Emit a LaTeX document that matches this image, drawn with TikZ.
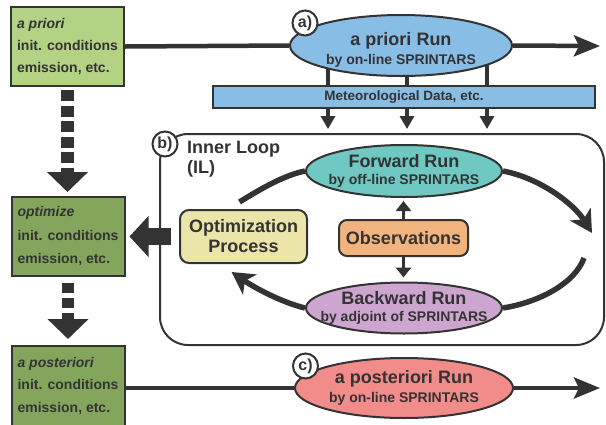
\documentclass[tikz,border=0pt]{standalone}
\usepackage{fontspec}
\setmainfont{Liberation Sans}
\usetikzlibrary{arrows.meta,calc,shapes.geometric}
\pgfdeclarelayer{bg}
\pgfsetlayers{bg,main}
\definecolor{ink}{HTML}{333333}
\definecolor{lgreen}{HTML}{B4D283}
\definecolor{dgreen}{HTML}{84A65C}
\definecolor{cblue}{HTML}{88BDE6}
\definecolor{cteal}{HTML}{70C8C2}
\definecolor{corange}{HTML}{F2B47E}
\definecolor{cyellow}{HTML}{ECE5AA}
\definecolor{cpurple}{HTML}{CDA6D0}
\definecolor{cpink}{HTML}{F28C8A}
\newcommand\runtitle[1]{{\fontsize{18}{19}\selectfont #1}}
\tikzset{
  inbox/.style={draw=ink, line width=2pt, minimum width=113pt,
    inner xsep=0pt, inner ysep=0pt, align=left, text=ink,
    font=\bfseries\fontsize{14}{22}\selectfont},
  runell/.style={ellipse, draw=ink, line width=2pt, inner xsep=-30pt, inner ysep=-10pt,
    align=center, text=ink, font=\bfseries\fontsize{14}{19}\selectfont},
  procbox/.style={draw=ink, line width=2pt, rounded corners=9pt, inner sep=0pt,
    align=center, text=ink, font=\bfseries\fontsize{18}{20}\selectfont},
  tag/.style={circle, draw=ink, fill=white, line width=2pt, minimum size=25pt,
    inner sep=0pt, text=ink, font=\bfseries\fontsize{16}{16}\selectfont},
  conn/.style={draw=ink, line width=4.5pt},
  bigtip/.style={-{Stealth[length=26pt,width=21pt,inset=5pt]}},
  smallconn/.style={draw=ink, line width=3.5pt},
  smalltip/.style={-{Triangle[length=13pt,width=14pt]}},
  blockarrow/.style={draw=ink, line width=12.5pt, dash pattern=on 11pt off 4.5pt,
    -{Triangle[length=20pt,width=40pt]}},
  looparc/.style={draw=ink, line width=5.5pt},
  looptip/.style={-{Stealth[length=22pt,width=24pt,inset=6pt]}}
}
\begin{document}
\begin{tikzpicture}[x=1pt,y=-1pt]
\useasboundingbox (0,0) rectangle (606,424);

% inner loop frame
\node[draw=ink, line width=2pt, rounded corners=28pt, minimum width=444pt,
      minimum height=211pt, inner sep=0pt] (loop) at (382,239.5) {};

% left boxes
\node[inbox, fill=lgreen, minimum height=79pt] (init1) at (67.5,46.5)
  {\textit{a priori}\\init. conditions\\emission, etc.};
\node[inbox, fill=dgreen, minimum height=79pt,
      font=\bfseries\fontsize{14}{23.5}\selectfont] (init2) at (68,236.5)
  {\textit{optimize}\\init. conditions\\emission, etc.};
\node[inbox, fill=dgreen, minimum height=80pt,
      font=\bfseries\fontsize{14}{22.5}\selectfont] (init3) at (68,386)
  {\textit{a posteriori}\\init. conditions\\emission, etc.};

% runs
\node[runell, fill=cblue, minimum width=222pt, minimum height=61pt] (runa) at (401,45.5)
  {\rule{0pt}{21pt}\runtitle{a priori Run}\\by on-line SPRINTARS};
\node[draw=ink, line width=2pt, fill=cblue, minimum width=382pt, minimum height=22pt,
      inner sep=0pt, text=ink, font=\bfseries\fontsize{13.5}{14}\selectfont] (met) at (404,97)
  {Meteorological Data, etc.};
\node[runell, fill=cteal, minimum width=196pt, minimum height=52pt] (fwd) at (404,171)
  {\runtitle{Forward Run}\\[-2pt]by off-line SPRINTARS};
\node[runell, fill=cpurple, minimum width=196pt, minimum height=51pt] (bwd) at (404,308)
  {\runtitle{Backward Run}\\[-2pt]by adjoint of SPRINTARS};
\node[runell, fill=cpink, minimum width=218pt, minimum height=60pt] (runc) at (404,388)
  {\runtitle{a posteriori Run}\\by on-line SPRINTARS};

\node[procbox, fill=cyellow, minimum width=127pt, minimum height=53pt] (opt) at (243.5,236.5)
  {Optimization\\Process};
\node[procbox, fill=corange, rounded corners=8pt, minimum width=129pt, minimum height=36pt]
  (obs) at (403.5,238) {Observations};

\node[anchor=north west, inner sep=0pt, align=left, text=ink,
      font=\bfseries\fontsize{18}{20}\selectfont] (il) at (187,141) {Inner Loop\\(IL)};

% tags
\node[tag] (ta) at (305,23) {a)};
\node[tag] (tb) at (165,144) {b)};
\node[tag] (tc) at (305.5,366) {c)};

% free ends
\coordinate (enda) at (600,46);
\coordinate (endc) at (600,388);
\coordinate (lpA) at (592,233);
\coordinate (lpB) at (584,258);

% connectors behind nodes
\begin{pgfonlayer}{bg}
  \draw[conn] (init1.east) -- (runa.west);
  \draw[conn] (init3.east |- runc.west) -- (runc.west);
  \draw[smallconn] ($(runa.center)+(-73,0)$) -- ($(met.north)+(-76,0)$);
  \draw[smallconn] ($(runa.center)+(6,0)$) -- ($(met.north)+(3,0)$);
  \draw[smallconn] ($(runa.center)+(86,0)$) -- ($(met.north)+(83,0)$);
\end{pgfonlayer}

\draw[conn, bigtip] (runa.east) -- (enda);
\draw[conn, bigtip] (runc.east) -- (endc);

\draw[smallconn, smalltip] ($(met.south)+(-76,0)$) -- ($(met.south)+(-76,20)$);
\draw[smallconn, smalltip] ($(met.south)+(3,0)$) -- ($(met.south)+(3,20)$);
\draw[smallconn, smalltip] ($(met.south)+(83,0)$) -- ($(met.south)+(83,20)$);

% dashed block arrows
\draw[blockarrow, shorten <=3pt, shorten >=4pt] (init1.south) -- (init1.south |- init2.north);
\draw[blockarrow, dash pattern=on 9.5pt off 5.5pt, shorten <=6pt, shorten >=6pt]
  (init2.south) -- (init2.south |- init3.north);

% big left arrow
\draw[draw=ink, line width=17pt, -{Triangle[length=19pt,width=40pt]},
      shorten <=8pt, shorten >=4pt] (opt.west) -- (opt.west -| init2.east);

% observations arrows
\draw[draw=ink, line width=3pt, -{Triangle[length=10pt,width=15pt]}, shorten >=3pt]
  (obs.north) -- (obs.north |- fwd.south);
\draw[draw=ink, line width=3pt, -{Triangle[length=10pt,width=15pt]}, shorten >=4pt]
  (obs.south) -- (obs.south |- bwd.north);

% loop arcs
\draw[looparc] ($(opt.north)+(-4,-7)$) .. controls (262,188) and (285,175) .. (fwd.west);
\draw[looparc, looptip] (fwd.east) .. controls (540,178) and (574,204) .. (lpA);
\draw[looparc] (lpB) .. controls (575,283) and (540,302) .. (bwd.east);
\draw[looparc, looptip] (bwd.west) .. controls (280,302) and (252,286) .. ($(opt.south)+(-12,8)$);
\end{tikzpicture}
\end{document}
